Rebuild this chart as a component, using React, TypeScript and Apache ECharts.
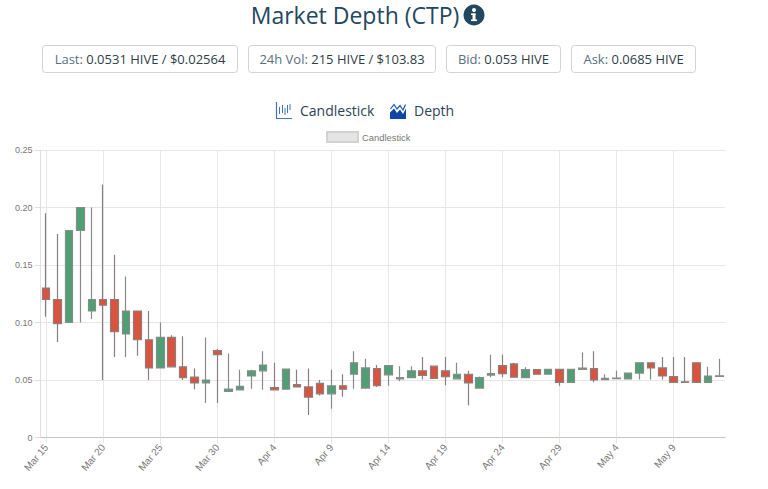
import React, { useEffect, useRef } from "react";
import * as echarts from "echarts";

const categories = [
  "Mar 15","Mar 16","Mar 17","Mar 18","Mar 19","Mar 20","Mar 21","Mar 22","Mar 23","Mar 24",
  "Mar 25","Mar 26","Mar 27","Mar 28","Mar 29","Mar 30","Mar 31","Apr 1","Apr 2","Apr 3",
  "Apr 4","Apr 5","Apr 6","Apr 7","Apr 8","Apr 9","Apr 10","Apr 11","Apr 12","Apr 13",
  "Apr 14","Apr 15","Apr 16","Apr 17","Apr 18","Apr 19","Apr 20","Apr 21","Apr 22","Apr 23",
  "Apr 24","Apr 25","Apr 26","Apr 27","Apr 28","Apr 29","Apr 30","May 1","May 2","May 3",
  "May 4","May 5","May 6","May 7","May 8","May 9","May 10","May 11","May 12","May 13",
];
const opens = [
  0.13,0.12,0.1,0.18,0.11,0.12,0.12,0.09,0.11,0.085,
  0.0605,0.087,0.0615,0.0525,0.0475,0.0755,0.04,0.0415,0.0535,0.058,
  0.0435,0.042,0.046,0.044,0.047,0.038,0.045,0.055,0.043,0.06,
  0.0545,0.051,0.052,0.058,0.062,0.058,0.051,0.055,0.043,0.0543,
  0.0625,0.064,0.052,0.059,0.055,0.0592,0.048,0.0592,0.06,0.0503,
  0.0512,0.051,0.056,0.065,0.0605,0.053,0.0485,0.065,0.048,0.0531,
];
const closes = [
  0.12,0.099,0.18,0.2,0.12,0.115,0.092,0.11,0.085,0.0605,
  0.087,0.0615,0.052,0.0475,0.05,0.072,0.042,0.0445,0.058,0.063,
  0.0415,0.0595,0.044,0.035,0.038,0.045,0.042,0.065,0.0605,0.045,
  0.0625,0.052,0.058,0.054,0.0515,0.053,0.055,0.0475,0.052,0.0555,
  0.0555,0.0525,0.059,0.055,0.0592,0.048,0.0592,0.0604,0.05,0.0515,
  0.0517,0.056,0.065,0.0605,0.0535,0.048,0.048,0.048,0.0535,0.0537,
];
const lows = [
  0.105,0.083,0.1,0.1,0.103,0.05,0.07,0.07,0.071,0.05,
  0.0605,0.0615,0.05,0.042,0.03,0.03,0.04,0.0415,0.0425,0.0415,
  0.0415,0.042,0.044,0.0195,0.0365,0.025,0.0355,0.0425,0.043,0.044,
  0.045,0.049,0.052,0.0505,0.0515,0.0455,0.051,0.028,0.043,0.0525,
  0.0525,0.0525,0.0515,0.055,0.055,0.045,0.048,0.0592,0.048,0.0503,
  0.0512,0.051,0.0505,0.0505,0.0505,0.048,0.048,0.048,0.048,0.0531,
];
const highs = [
  0.195,0.177,0.18,0.2,0.2,0.22,0.159,0.14,0.11,0.11,
  0.1,0.089,0.088,0.06,0.087,0.077,0.073,0.059,0.059,0.075,
  0.065,0.0595,0.059,0.06,0.05,0.059,0.055,0.075,0.0685,0.063,
  0.0625,0.062,0.062,0.07,0.062,0.07,0.065,0.058,0.053,0.072,
  0.072,0.065,0.061,0.059,0.0592,0.0592,0.0592,0.074,0.075,0.055,
  0.058,0.056,0.065,0.065,0.07,0.07,0.07,0.065,0.0615,0.0685,
];
const yTicks = [0, 0.05, 0.1, 0.15, 0.2, 0.25];
const statBoxes = [
  { label: "Last: ", value: "0.0531 HIVE / $0.02564", x: 42, w: 195 },
  { label: "24h Vol: ", value: "215 HIVE / $103.83", x: 248, w: 187 },
  { label: "Bid: ", value: "0.053 HIVE", x: 446, w: 114 },
  { label: "Ask: ", value: "0.0685 HIVE", x: 571, w: 124 },
];

const INK = "#23475f";
const ICON_BLUE = "#3f74c4";
const FONT = '"Open Sans", sans-serif';
const CHART_FONT = '"Liberation Sans", Arial, sans-serif';

function headerGraphics(): any[] {
  const items: any[] = [
    { type: "text", x: 355, y: 15, style: { text: "Market Depth (CTP)", font: `23px ${FONT}`, fill: INK, align: "center", verticalAlign: "middle" } },
    { type: "circle", shape: { cx: 474, cy: 15, r: 10.5 }, style: { fill: INK } },
    { type: "circle", shape: { cx: 474, cy: 10, r: 2 }, style: { fill: "#fff" } },
    { type: "rect", shape: { x: 472.5, y: 13.5, width: 3, height: 6.5 }, style: { fill: "#fff" } },
    { type: "rect", shape: { x: 471, y: 13.5, width: 4.5, height: 1.5 }, style: { fill: "#fff" } },
    { type: "rect", shape: { x: 471, y: 19.5, width: 6, height: 1.6 }, style: { fill: "#fff" } },
  ];
  statBoxes.forEach((b) => {
    items.push({
      type: "rect",
      shape: { x: b.x + 0.5, y: 45.5, width: b.w, height: 27, r: 3 },
      style: { fill: "#fff", stroke: "#ced4da", lineWidth: 1 },
    });
    items.push({
      type: "text",
      x: b.x + b.w / 2 + 0.5,
      y: 59,
      style: {
        text: `{l|${b.label}}{v|${b.value}}`,
        align: "center",
        verticalAlign: "middle",
        rich: {
          l: { fill: "#58707f", fontFamily: "Open Sans", fontSize: 13 },
          v: { fill: "#2f3d47", fontFamily: "Open Sans", fontSize: 13 },
        },
      },
    });
  });
  // candlestick tab icon
  items.push({ type: "polyline", shape: { points: [[276.5, 102], [276.5, 118.5], [292, 118.5]] }, style: { stroke: ICON_BLUE, lineWidth: 1.2, fill: "none" } });
  [[279.5, 107, 114], [282.5, 105, 113], [285, 108, 115], [287.5, 105, 113], [290, 104, 110]].forEach(([x, a, b]) => {
    items.push({ type: "line", shape: { x1: x, y1: a, x2: x, y2: b }, style: { stroke: ICON_BLUE, lineWidth: 1 } });
  });
  items.push({ type: "text", x: 300, y: 110, style: { text: "Candlestick", font: `14px ${FONT}`, fill: "#2d4456", verticalAlign: "middle" } });
  // depth tab icon
  items.push({ type: "polygon", shape: { points: [[390, 119], [390, 112.5], [394, 108.5], [397, 113], [400, 109.5], [403, 114], [406, 108.5], [406, 119]] }, style: { fill: "#0d47a8" } });
  items.push({ type: "polyline", shape: { points: [[390.5, 109], [394, 104.5], [397, 109], [400, 105.5], [403, 110], [405.5, 104.5]] }, style: { stroke: "#1c56b4", lineWidth: 1.2, fill: "none" } });
  items.push({ type: "text", x: 414, y: 110, style: { text: "Depth", font: `14px ${FONT}`, fill: "#2d4456", verticalAlign: "middle" } });
  return items;
}

export default function App() {
  const ref = useRef<HTMLDivElement>(null);
  useEffect(() => {
    document.body.style.margin = "0";
    const chart = echarts.init(ref.current!, undefined, { renderer: "svg" });
    chart.setOption({
      animation: false,
      backgroundColor: "#fff",
      graphic: headerGraphics(),
      legend: {
        data: [{ name: "Candlestick", icon: "rect", itemStyle: { color: "#e4e4e4", borderColor: "#d2d2d2", borderWidth: 2 } }],
        top: 131,
        left: 326,
        itemWidth: 31,
        itemHeight: 10,
        itemGap: 4,
        padding: 0,
        selectedMode: false,
        textStyle: { fontFamily: CHART_FONT, fontSize: 9.4, color: "#777", padding: [0, 0, 0, -1] },
      },
      grid: { left: 40.5, right: 43, top: 150, height: 287.5 },
      xAxis: {
        type: "category",
        data: categories,
        boundaryGap: true,
        axisLine: { show: true, lineStyle: { color: "#c4c4c4", width: 1 } },
        axisTick: { show: true, length: 6, alignWithLabel: true, interval: 4, lineStyle: { color: "#e6e6e6" } },
        axisLabel: { interval: 4, rotate: 50, fontFamily: CHART_FONT, fontSize: 10, color: "#777", margin: 8 },
        splitLine: { show: true, alignWithLabel: true, interval: 4, lineStyle: { color: "#e6e6e6", width: 1 } },
      },
      yAxis: {
        type: "value",
        min: 0,
        max: yTicks[yTicks.length - 1],
        interval: 0.05,
        axisLine: { show: true, lineStyle: { color: "#e0e0e0", width: 1 } },
        axisTick: { show: true, length: 6, lineStyle: { color: "#e0e0e0" } },
        axisLabel: {
          fontFamily: CHART_FONT,
          fontSize: 9,
          color: "#777",
          margin: 8,
          formatter: (v: number) => (v === 0 ? "0" : v.toFixed(2)),
        },
        splitLine: { show: true, lineStyle: { color: "#e6e6e6", width: 1 } },
      },
      series: [
        {
          type: "candlestick",
          name: "Candlestick",
          barWidth: 8,
          data: categories.map((_, i) => [opens[i], closes[i], lows[i], highs[i]]),
          itemStyle: {
            color: "#4f9f75",
            color0: "#d9533e",
            borderColor: "#868c88",
            borderColor0: "#8a7f7c",
            borderWidth: 1.2,
          },
        },
      ],
    });
    return () => chart.dispose();
  }, []);
  return <div ref={ref} style={{ width: 768, height: 489 }} />;
}
